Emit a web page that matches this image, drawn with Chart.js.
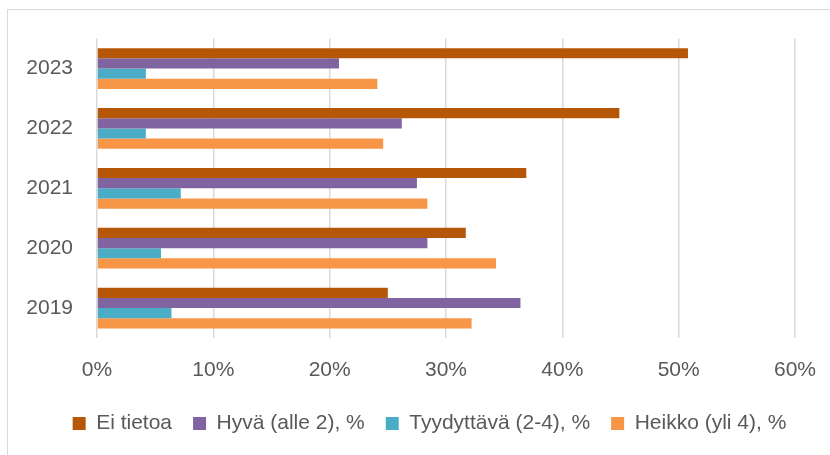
<!DOCTYPE html>
<html>
<head>
<meta charset="utf-8">
<script src="https://cdn.jsdelivr.net/npm/chart.js@4.4.1/dist/chart.umd.min.js"></script>
<style>
  html, body { margin: 0; padding: 0; background: #fff; overflow: hidden; width: 830px; height: 455px; }
  #box { position: absolute; left: 7px; top: 9px; width: 846px; height: 455px; border: 1px solid #d9d9d9; box-sizing: border-box; }
  #c { position: absolute; left: 0; top: 0; }
</style>
</head>
<body>
<div id="box"><canvas id="c" width="846" height="455"></canvas></div>
<script>
const categories = ['2023', '2022', '2021', '2020', '2019'];
const seriesNames = ['Ei tietoa', 'Hyvä (alle 2), %', 'Tyydyttävä (2-4), %', 'Heikko (yli 4), %'];
const eiTietoa   = [50.8, 44.9, 36.9, 31.7, 25.0];
const hyva       = [20.8, 26.2, 27.5, 28.4, 36.4];
const tyydyttava = [4.2, 4.2, 7.2, 5.5, 6.4];
const heikko     = [24.1, 24.6, 28.4, 34.3, 32.2];
const xTicks = [0, 10, 20, 30, 40, 50, 60];
const colors = ['#B65708', '#8064A2', '#4BACC6', '#F79646'];

const FONT = '"Liberation Sans", Arial, sans-serif';
const TEXT = '#595959';

const shiftLegend = {
  id: 'shiftLegend',
  afterLayout(chart) {
    const lg = chart.legend;
    if (lg) { lg.left += 28; lg.right += 28; }
  }
};

new Chart(document.getElementById('c'), {
  type: 'bar',
  data: {
    labels: categories,
    datasets: [eiTietoa, hyva, tyydyttava, heikko].map((d, i) => ({
      label: seriesNames[i],
      data: d,
      backgroundColor: colors[i],
      borderWidth: 0,
      categoryPercentage: 0.68,
      barPercentage: 1.0
    }))
  },
  plugins: [shiftLegend],
  options: {
    indexAxis: 'y',
    responsive: false,
    animation: false,
    layout: { padding: { top: 16.4, right: 59, left: 0, bottom: 21 } },
    plugins: {
      tooltip: { enabled: false },
      legend: {
        position: 'bottom',
        labels: {
          boxWidth: 13, boxHeight: 13, padding: 21,
          color: TEXT,
          font: { family: FONT, size: 21 }
        }
      }
    },
    scales: {
      x: {
        min: 0, max: 60,
        afterBuildTicks: (s) => { s.ticks = xTicks.map(v => ({ value: v })); },
        afterFit: (s) => { s.height = 54; },
        ticks: {
          color: TEXT, padding: 20,
          font: { family: FONT, size: 21 },
          callback: (v) => v + '%'
        },
        grid: { color: '#d9d9d9', lineWidth: 1.5, drawTicks: false },
        border: { display: false }
      },
      y: {
        afterFit: (s) => { s.width = 89; },
        ticks: { color: TEXT, padding: 16, font: { family: FONT, size: 21 } },
        grid: { display: false },
        border: { display: false }
      }
    }
  }
});
</script>
</body>
</html>
